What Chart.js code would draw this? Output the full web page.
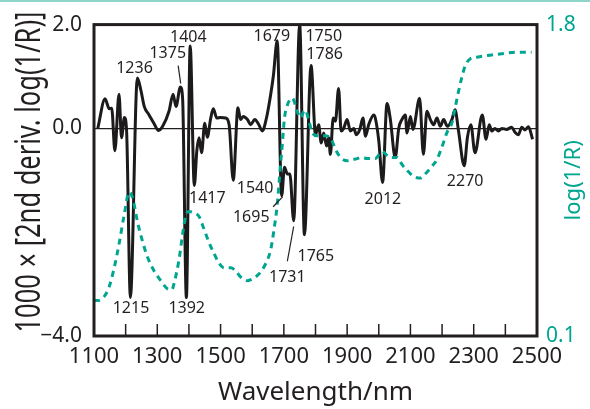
<!DOCTYPE html>
<html><head><meta charset="utf-8">
<script src="https://cdn.jsdelivr.net/npm/chart.js@4/dist/chart.umd.min.js"></script>
<style>
html,body{margin:0;padding:0;background:#fff;}
#wrap{position:relative;width:590px;height:409px;}
#topline{position:absolute;left:0;top:0;width:590px;height:2px;background:#8dd5c9;}
canvas{display:block}
</style></head><body>
<div id="wrap"><div id="topline"></div><canvas id="c" width="590" height="409"></canvas></div>
<script>
// ---- data ----
const derivNm = [1112,1135,1148,1156,1166,1179,1187,1196,1203,1215,1237,1248,1259,1274,1290,1304,1317,1337,1350,1359,1373,1380,1392,1404,1417,1425,1432,1440,1450,1458,1469,1477,1488,1500,1516,1527,1540,1555,1563,1572,1585,1595,1608,1621,1632,1645,1658,1667,1679,1693,1702,1711,1719,1731,1750,1765,1786,1800,1810,1818,1826,1835,1842,1847,1856,1863,1873,1881,1889,1900,1910,1921,1929,1940,1950,1958,1968,1984,1989,2000,2012,2026,2036,2052,2063,2073,2084,2089,2100,2108,2129,2141,2152,2163,2173,2184,2194,2205,2217,2231,2241,2252,2270,2280,2291,2304,2327,2339,2349,2357,2367,2378,2389,2404,2420,2431,2441,2452,2462,2473,2486];
const derivVal = [0.00,0.57,0.38,0.39,-0.43,0.66,-0.18,0.21,-0.05,-3.26,0.97,0.74,0.42,0.26,0.09,-0.04,0.04,0.33,0.66,0.42,0.80,0.58,-3.26,1.59,-1.10,-0.43,-0.18,-0.47,0.10,-0.17,0.20,0.38,0.20,0.21,0.20,0.07,-1.00,0.40,0.17,0.23,0.17,0.07,0.17,0.07,-0.05,0.20,0.64,1.02,1.69,-1.30,-0.75,-0.88,-0.88,-1.78,2.00,-2.05,1.21,-0.12,0.07,-0.28,-0.09,-0.34,-0.18,-0.50,0.20,0.14,0.77,-0.05,0.00,0.17,-0.05,0.00,-0.12,-0.02,0.20,-0.15,0.07,0.26,0.20,-0.24,-1.04,0.48,0.20,-0.56,0.00,0.17,0.26,-0.09,0.23,-0.02,0.58,-0.50,0.33,0.17,0.07,0.20,0.04,0.17,0.04,0.17,0.36,-0.05,-0.72,-0.18,0.07,-0.47,0.26,-0.21,0.07,-0.05,0.00,-0.05,0.00,-0.02,0.02,-0.08,-0.12,0.02,-0.03,0.03,-0.21];
const logNm = [1100,1112,1132,1147,1163,1179,1195,1211,1222,1238,1254,1269,1290,1311,1332,1346,1355,1368,1380,1390,1400,1415,1432,1448,1464,1479,1495,1511,1532,1548,1563,1585,1600,1621,1642,1658,1668,1679,1687,1695,1702,1711,1727,1742,1753,1763,1768,1779,1790,1805,1826,1847,1863,1879,1900,1926,1947,1963,1989,2010,2036,2058,2073,2089,2110,2131,2152,2168,2184,2199,2215,2231,2241,2252,2263,2273,2289,2310,2341,2383,2436,2483];
const logVal = [0.294,0.294,0.315,0.364,0.466,0.601,0.757,0.886,0.854,0.719,0.612,0.531,0.455,0.402,0.358,0.353,0.402,0.509,0.655,0.757,0.779,0.773,0.752,0.682,0.608,0.552,0.498,0.472,0.472,0.455,0.423,0.402,0.411,0.438,0.493,0.568,0.671,0.816,0.983,1.145,1.29,1.36,1.398,1.328,1.29,1.328,1.333,1.274,1.209,1.193,1.193,1.182,1.119,1.075,1.057,1.066,1.075,1.069,1.069,1.107,1.075,1.075,1.037,1.005,0.972,0.962,0.994,1.026,1.064,1.129,1.209,1.263,1.344,1.435,1.516,1.575,1.613,1.622,1.631,1.640,1.649,1.649];
const xTicks = [1100,1200,1300,1400,1500,1600,1700,1800,1900,2000,2100,2200,2300,2400,2500];
const leftTicks = [-4, 0, 2];
const rightTicks = [0.1, 1.8];
const peakLabelText = ['1236','1375','1404','1679','1750','1786','1417','1540','1695','1731','1765','1215','1392','2012','2270'];

// ---- annotation placement (data space) ----
const peakLabelAt = [[1228,1.15],[1333,1.45],[1398,1.76],[1662,1.77],[1826,1.77],[1829,1.42],[1458,-1.35],[1609,-1.16],[1597,-1.72],[1711,-2.87],[1801,-2.46],[1217,-3.46],[1393,-3.47],[2013,-1.36],[2273,-1.02]];
const leaderLines = [[1366,1.21,1374,0.865],[1666,-1.51,1696,-1.32],[1711,-2.56,1731,-1.89]];

const INK = '#231f20';
const TEAL = '#00a58f';
const FONT = '"Noto Sans", "Open Sans", sans-serif';

const deco = {
  id: 'deco',
  afterDatasetsDraw(chart) {
    const {ctx, chartArea: a, scales: {x, y}} = chart;
    ctx.save();
    ctx.strokeStyle = INK;
    ctx.lineWidth = 3;
    ctx.strokeRect(a.left, a.top, a.right - a.left, a.bottom - a.top);
    ctx.lineWidth = 1.5;
    xTicks.forEach(v => {
      const px = x.getPixelForValue(v);
      ctx.beginPath(); ctx.moveTo(px, a.bottom); ctx.lineTo(px, a.bottom - 12); ctx.stroke();
    });
    ctx.lineWidth = 1.2;
    leaderLines.forEach(([x1, y1, x2, y2]) => {
      ctx.beginPath();
      ctx.moveTo(x.getPixelForValue(x1), y.getPixelForValue(y1));
      ctx.lineTo(x.getPixelForValue(x2), y.getPixelForValue(y2));
      ctx.stroke();
    });
    ctx.fillStyle = INK;
    ctx.font = '16px ' + FONT;
    ctx.textAlign = 'center';
    ctx.textBaseline = 'middle';
    peakLabelText.forEach((t, i) => {
      ctx.fillText(t, x.getPixelForValue(peakLabelAt[i][0]), y.getPixelForValue(peakLabelAt[i][1]));
    });
    // left axis title (compressed along its length as in the reference)
    ctx.save();
    ctx.translate(40, 172);
    ctx.rotate(-Math.PI / 2);
    ctx.font = '34px ' + FONT;
    ctx.textBaseline = 'alphabetic';
    ctx.fillText('1000 \u00d7 [2nd deriv. log(1/R)]', 0, 0, 321);
    ctx.restore();
    // right axis title
    ctx.save();
    ctx.translate(580, (a.top + a.bottom) / 2);
    ctx.rotate(-Math.PI / 2);
    ctx.font = '22px ' + FONT;
    ctx.fillStyle = TEAL;
    ctx.textBaseline = 'alphabetic';
    ctx.fillText('log(1/R)', 0, 0);
    ctx.restore();
    ctx.restore();
  }
};

new Chart(document.getElementById('c'), {
  type: 'line',
  data: {
    datasets: [
      {
        data: logNm.map((v, i) => ({x: v, y: logVal[i]})),
        yAxisID: 'y2', borderColor: TEAL, borderWidth: 3, borderDash: [6, 5],
        pointRadius: 0, cubicInterpolationMode: 'monotone', fill: false
      },
      {
        data: derivNm.map((v, i) => ({x: v, y: derivVal[i]})),
        yAxisID: 'y', borderColor: '#1c1a1a', borderWidth: 3,
        pointRadius: 0, cubicInterpolationMode: 'monotone', fill: false
      }
    ]
  },
  options: {
    responsive: false, animation: false,
    layout: {padding: {top: 20, left: 0, right: 0, bottom: 0}},
    plugins: {legend: {display: false}, tooltip: {enabled: false}},
    scales: {
      x: {
        type: 'linear', min: 1100, max: 2500,
        afterBuildTicks: s => { s.ticks = xTicks.map(v => ({value: v})); },
        afterFit: s => { s.height = 73; },
        grid: {display: false, drawTicks: false},
        border: {display: false},
        ticks: {
          autoSkip: false, maxRotation: 0, padding: 8, color: INK,
          font: {size: 22, family: FONT},
          callback: v => ((v - 1100) % 200 === 0 ? String(v) : '')
        },
        title: {display: true, text: 'Wavelength/nm', color: INK, font: {size: 26, family: FONT}, padding: {top: 0, bottom: 1}}
      },
      y: {
        position: 'left', min: -4, max: 2,
        afterBuildTicks: s => { s.ticks = leftTicks.map(v => ({value: v})); },
        afterFit: s => { s.width = 94; },
        grid: {drawTicks: false, lineWidth: 1.3, color: c => (c.tick && c.tick.value === 0 ? INK : 'rgba(0,0,0,0)')},
        border: {display: false},
        ticks: {padding: 12, color: INK, font: {size: 21, family: FONT},
          callback: v => (v < 0 ? '\u2212' + Math.abs(v).toFixed(1) : v.toFixed(1))}
      },
      y2: {
        position: 'right', min: 0.1, max: 1.8,
        afterBuildTicks: s => { s.ticks = rightTicks.map(v => ({value: v})); },
        afterFit: s => { s.width = 53; },
        grid: {display: false, drawTicks: false},
        border: {display: false},
        ticks: {padding: 9, color: TEAL, font: {size: 21, family: FONT}, callback: v => v.toFixed(1)}
      }
    }
  },
  plugins: [deco]
});
</script>
</body></html>
